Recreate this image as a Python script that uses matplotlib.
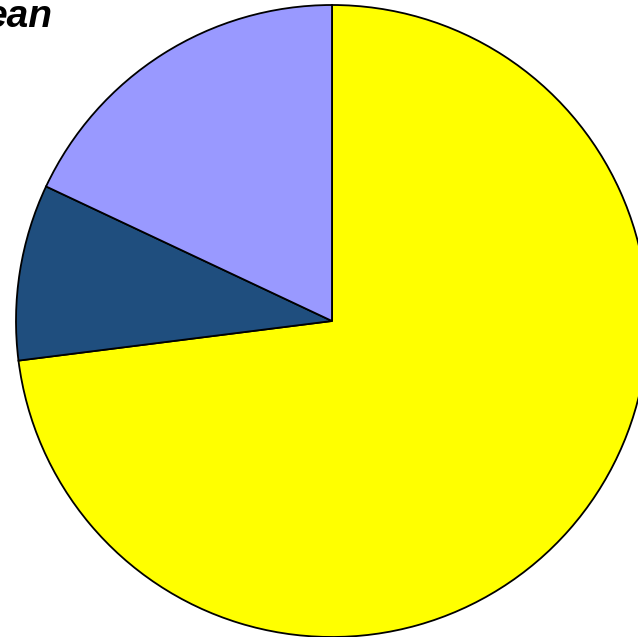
import matplotlib.pyplot as plt

# slice shares (percent)
labels = ['Yellow', 'Dark blue', 'Light blue']
shares = [73, 9, 18]
colours = ['#FFFF00', '#1F4E7E', '#9999FF']

fig = plt.figure(figsize=(6.38, 6.37), dpi=100)
ax = fig.add_axes([0, 0, 1, 1])

ax.pie(shares, colors=colours, startangle=90, counterclock=False,
       wedgeprops={'edgecolor': 'black', 'linewidth': 1.3})

# pie centre at (332, 321) px, radius 316 px
ax.set_xlim(-332 / 316, 306 / 316)
ax.set_ylim(-316 / 316, 321 / 316)
ax.set_aspect('auto')
ax.axis('off')

fig.text(53 / 638, 1 - 27 / 637, 'ean', ha='right', va='baseline',
         fontsize=28, fontweight='bold', fontstyle='italic',
         family=['Liberation Sans', 'DejaVu Sans'])

plt.savefig('out.png', dpi=100)
